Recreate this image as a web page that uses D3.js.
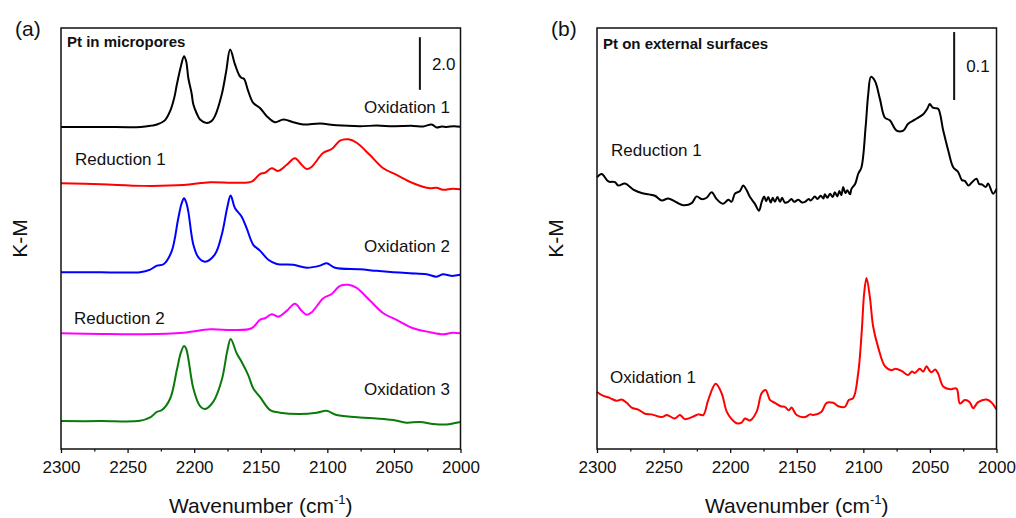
<!DOCTYPE html>
<html>
<head>
<meta charset="utf-8">
<script src="https://cdn.jsdelivr.net/npm/d3@7"></script>
<style>
body { margin: 0; background: #fff; }
text { font-family: Arial, "Liberation Sans", sans-serif; fill: #111; }
</style>
</head>
<body>
<div id="chart"></div>
<script>
// x ticks (wavenumber, cm-1)
var xMajor = [2300, 2250, 2200, 2150, 2100, 2050, 2000];
var xMinor = [2275, 2225, 2175, 2125, 2075, 2025];

// (a) Pt in micropores -- [wavenumber, K-M above own baseline]
var a_ox1 = [[2300,0],[2270,0],[2240,0],[2232,0.05],[2228,0.09],[2222,0.25],[2218,0.61],[2215,1.1],[2213,1.61],[2210,2.3],[2207.6,2.69],[2206,2.5],[2204.4,1.86],[2202,1.3],[2200.6,0.85],[2198,0.5],[2195.6,0.28],[2190.6,0.15],[2187,0.22],[2184.4,0.41],[2179.3,1.23],[2176,2.1],[2173,2.94],[2169.3,2.37],[2166,1.95],[2164.3,1.86],[2162.6,1.83],[2159.4,1.36],[2155.6,0.91],[2150.6,0.72],[2145.5,0.41],[2139.3,0.18],[2133,0.28],[2125.6,0.18],[2118,0.09],[2105.5,0.13],[2093,0.06],[2075.5,0.03],[2063,0.05],[2050.5,0.03],[2035.5,0.04],[2028,0.02],[2021.6,0.09],[2018,-0.02],[2014,0.02],[2010.4,0],[2005,0.03],[2000,0.01]];
var a_red1 = [[2300,0],[2270,-0.04],[2238,-0.1],[2208,-0.07],[2188,0.04],[2170.6,0.02],[2156.8,0.06],[2150.6,0.35],[2146.8,0.4],[2141.8,0.57],[2136.8,0.47],[2130.5,0.7],[2124.3,0.95],[2119.3,0.7],[2115.5,0.54],[2111.7,0.63],[2103,1.16],[2096.7,1.3],[2090.5,1.62],[2084.2,1.67],[2078,1.54],[2068,1.07],[2058,0.57],[2048,0.32],[2035.5,0],[2023,-0.19],[2018,-0.17],[2013,-0.25],[2006,-0.21],[2000,-0.23]];
var a_ox2 = [[2300,0],[2270,0],[2240.7,0],[2233,0.1],[2228,0.25],[2223,0.3],[2217,0.78],[2212,2.03],[2209.5,2.6],[2207.6,2.81],[2206,2.65],[2204.4,2.3],[2200.6,1.04],[2196.8,0.56],[2191.9,0.4],[2184.4,0.68],[2179.3,1.42],[2175,2.5],[2172.6,2.91],[2169.3,2.43],[2164.3,2.11],[2160.6,1.67],[2155.6,1.04],[2150.6,0.82],[2144.3,0.47],[2138,0.31],[2125.6,0.28],[2115.5,0.17],[2105.5,0.25],[2100.5,0.34],[2094.2,0.17],[2075.5,0.11],[2063,0.05],[2050.5,0],[2038,-0.04],[2025.4,-0.08],[2018,-0.17],[2013,-0.08],[2007,-0.14],[2000,-0.1]];
var a_red2 = [[2300,0],[2270,-0.03],[2238,-0.04],[2208,0.02],[2188,0.15],[2170.6,0.12],[2156.8,0.19],[2150.6,0.51],[2146.8,0.57],[2141.8,0.72],[2136.8,0.63],[2130.5,0.85],[2124.3,1.12],[2119.3,0.85],[2115.5,0.7],[2111.7,0.8],[2103,1.33],[2096.7,1.49],[2090.5,1.8],[2084.2,1.84],[2078,1.72],[2068,1.24],[2058,0.76],[2048,0.51],[2035.5,0.19],[2023,0.04],[2013,-0.04],[2006,0.02],[2000,0]];
var a_ox3 = [[2300,0],[2270,0],[2240.7,0.01],[2233,0.14],[2228,0.35],[2224.2,0.42],[2218,0.86],[2213,1.94],[2210,2.6],[2207.6,2.85],[2206,2.75],[2204.4,2.38],[2200.6,1.24],[2195.6,0.57],[2191.9,0.46],[2185.6,0.74],[2179.3,1.56],[2175,2.7],[2172.6,3.12],[2168,2.57],[2164.3,2.25],[2159.4,1.75],[2155.6,1.24],[2150.6,0.92],[2143,0.42],[2135.5,0.32],[2120.5,0.27],[2108,0.32],[2100.5,0.39],[2093,0.23],[2075.5,0.14],[2063,0.1],[2050.5,0.04],[2040.5,-0.06],[2030.5,-0.03],[2020.5,-0.11],[2010.4,-0.13],[2005,-0.08],[2000,-0.03]];
var a_offsets = [12.24, 10.10, 6.72, 4.40, 1.06];
var a_labels = ["Oxidation 1", "Reduction 1", "Oxidation 2", "Reduction 2", "Oxidation 3"];

// (b) Pt on external surfaces
var b_red1 = [[2300,0.034],[2296.5,0.039],[2291.5,0.028],[2286.5,0.027],[2284,0.022],[2279,0.025],[2272.7,0.016],[2266.5,0.011],[2261,0.009],[2256.5,0.007],[2251.4,0],[2246.4,0.003],[2240,-0.003],[2235.2,-0.007],[2228.9,-0.004],[2225.2,0.006],[2221.4,0.002],[2217.7,0.004],[2213.9,0.012],[2210.1,0.002],[2205.2,-0.005],[2201.4,0.001],[2198.9,-0.002],[2196.4,0.01],[2192.6,0.014],[2190.2,0.022],[2187.6,0.015],[2185.1,0.005],[2181.4,-0.005],[2178.4,-0.015],[2176.3,-0.002],[2174.5,0.006],[2173,-0.001],[2171.4,0.005],[2169.5,-0.003],[2168,0.004],[2166.4,-0.002],[2164.5,0.005],[2162.5,-0.002],[2161,0.004],[2159,-0.003],[2156.4,-0.002],[2154,0.002],[2152,-0.002],[2148.8,0.001],[2146,-0.003],[2143.8,-0.002],[2141,0.002],[2139.5,0],[2136.4,0.006],[2134.5,0.002],[2132,0.007],[2130,0.003],[2128.9,0.009],[2127,0.004],[2125,0.01],[2123,0.005],[2121.4,0.012],[2119.5,0.006],[2118,0.014],[2116.5,0.008],[2115.1,0.02],[2113.5,0.011],[2112,0.015],[2110,0.009],[2108.9,0.017],[2106,0.025],[2103.9,0.039],[2101.4,0.049],[2098.3,0.108],[2096.3,0.157],[2094.3,0.182],[2091.3,0.176],[2087.6,0.15],[2083.8,0.122],[2080.1,0.118],[2075,0.103],[2070,0.103],[2066.3,0.113],[2061.3,0.119],[2055,0.127],[2052,0.135],[2050.1,0.142],[2048,0.137],[2046.3,0.136],[2043.8,0.135],[2040,0.103],[2036.3,0.074],[2032.5,0.049],[2028.8,0.042],[2026,0.03],[2023.8,0.029],[2021,0.022],[2018.8,0.026],[2015,0.032],[2013,0.024],[2011.3,0.024],[2008,0.02],[2006.3,0.025],[2002.5,0.01],[2000,0.017]];
var b_ox1 = [[2300,0.034],[2296,0.029],[2290.2,0.025],[2285.2,0.021],[2281.5,0.023],[2277.7,0.018],[2274,0.011],[2269,0.008],[2264,0.002],[2259,0.001],[2251.4,-0.003],[2247.6,0],[2241.5,-0.005],[2237.7,0],[2234,-0.006],[2226.5,-0.001],[2224,0.001],[2220.2,0],[2216.5,0.022],[2210.9,0.046],[2206.4,0.032],[2202.6,0.005],[2198.9,-0.006],[2195.1,-0.012],[2191.4,-0.011],[2188.9,-0.005],[2185.1,-0.008],[2180.1,0.005],[2176.4,0.032],[2173.4,0.037],[2170,0.022],[2166.4,0.018],[2162,0.013],[2158.9,0.012],[2156,0.007],[2153.9,0.011],[2150.1,0],[2143.9,-0.003],[2140,0.001],[2137.6,0],[2131.4,0.005],[2127.6,0.018],[2122.6,0.018],[2118.8,0.013],[2113.9,0.012],[2110.9,0.022],[2107.6,0.025],[2103.9,0.061],[2101.3,0.12],[2099.4,0.179],[2097.6,0.202],[2095.1,0.174],[2092.6,0.13],[2088.9,0.1],[2083.8,0.072],[2078.8,0.066],[2076.3,0.068],[2071.3,0.065],[2066.3,0.059],[2063.5,0.064],[2061.3,0.062],[2057.6,0.068],[2055,0.064],[2052.5,0.072],[2050.5,0.066],[2048.8,0.063],[2046,0.067],[2043.8,0.061],[2040,0.042],[2035,0.038],[2030,0.039],[2027.5,0.017],[2023.8,0.022],[2020.1,0.019],[2017.6,0.01],[2013.8,0.019],[2007.6,0.023],[2003.9,0.019],[2000,0.008]];
var b_offsets = [0.366, 0.05];
var b_labels = ["Reduction 1", "Oxidation 1"];

var width = 1016, height = 518;
var svg = d3.select("#chart").append("svg").attr("width", width).attr("height", height);

function drawPanel(p) {
  var g = svg.append("g");
  var x = d3.scaleLinear().domain([2300, 2000]).range([p.left, p.right]);
  var y = d3.scaleLinear().domain(p.yDomain).range([p.bottom, p.top]);

  var line = d3.line()
    .x(function(d) { return x(d[0]); })
    .y(function(d) { return y(d[1]); })
    .curve(d3.curveCatmullRom.alpha(0.5));

  p.series.forEach(function(s, i) {
    var pts = s.map(function(d) { return [d[0], d[1] + p.offsets[i]]; });
    g.append("path")
      .attr("d", line(pts))
      .attr("fill", "none")
      .attr("stroke", p.colors[i])
      .attr("stroke-width", 2)
      .attr("stroke-linejoin", "round");
  });

  // x axis, ticks point outward
  var ax = g.append("g").attr("transform", "translate(0," + p.bottom + ")")
    .call(d3.axisBottom(x).tickValues(xMajor).tickSize(4).tickSizeOuter(0).tickFormat(d3.format("d")));
  ax.select(".domain").remove();
  ax.selectAll("line").attr("stroke", "#111").attr("stroke-width", 1.3);
  ax.selectAll("text").attr("font-size", 17).attr("dy", "0.71em").attr("y", 12)
    .style("font-family", "Arial, 'Liberation Sans', sans-serif");
  var mx = g.append("g").attr("transform", "translate(0," + p.bottom + ")")
    .call(d3.axisBottom(x).tickValues(xMinor).tickSize(2.5).tickFormat(""));
  mx.select(".domain").remove();
  mx.selectAll("line").attr("stroke", "#111").attr("stroke-width", 1.3);

  // frame
  g.append("rect")
    .attr("x", p.left).attr("y", p.top)
    .attr("width", p.right - p.left).attr("height", p.bottom - p.top)
    .attr("fill", "none").attr("stroke", "#111").attr("stroke-width", 1.5);

  // scale bar
  g.append("line")
    .attr("x1", x(p.bar.at)).attr("x2", x(p.bar.at))
    .attr("y1", y(p.bar.top)).attr("y2", y(p.bar.top - p.bar.size))
    .attr("stroke", "#111").attr("stroke-width", 2);
  g.append("text")
    .attr("x", x(p.bar.at) + 12).attr("y", y(p.bar.top - p.bar.size / 2) + 6)
    .attr("font-size", 17).text(p.bar.label);

  g.append("text").attr("x", p.left + 6).attr("y", p.top + p.titleDy)
    .attr("font-size", 15).attr("font-weight", "bold").text(p.title);

  g.append("text").attr("x", p.left - 46).attr("y", 36)
    .attr("font-size", 21).text(p.tag);

  g.append("text")
    .attr("transform", "translate(" + (p.left - 34) + "," + ((p.top + p.bottom) / 2) + ") rotate(-90)")
    .attr("text-anchor", "middle").attr("font-size", 21).text("K-M");

  var t = g.append("text")
    .attr("x", (p.left + p.right) / 2).attr("y", 513)
    .attr("text-anchor", "middle").attr("font-size", 21);
  t.append("tspan").text("Wavenumber (cm");
  t.append("tspan").attr("font-size", 13).attr("dy", -9).text("-1");
  t.append("tspan").attr("dy", 9).text(")");

  p.labels.forEach(function(l, i) {
    g.append("text").attr("x", l.x).attr("y", l.y)
      .attr("text-anchor", l.anchor).attr("font-size", 17).text(p.names[i]);
  });
}

drawPanel({
  left: 61, right: 460.5, top: 28, bottom: 449,
  yDomain: [0, 16],
  series: [a_ox1, a_red1, a_ox2, a_red2, a_ox3],
  offsets: a_offsets,
  colors: ["#000000", "#ff0000", "#0000ff", "#ff00ff", "#0a7a0a"],
  names: a_labels,
  labels: [
    { x: 450, y: 113, anchor: "end" },
    { x: 75, y: 165, anchor: "start" },
    { x: 450, y: 252, anchor: "end" },
    { x: 74, y: 324, anchor: "start" },
    { x: 450, y: 395, anchor: "end" }
  ],
  bar: { at: 2030.5, top: 15.65, size: 2.0, label: "2.0" },
  title: "Pt in micropores", titleDy: 19, tag: "(a)"
});

drawPanel({
  left: 597, right: 996.5, top: 28, bottom: 449,
  yDomain: [0, 0.62],
  series: [b_red1, b_ox1],
  offsets: b_offsets,
  colors: ["#000000", "#ff0000"],
  names: b_labels,
  labels: [
    { x: 611, y: 156, anchor: "start" },
    { x: 610, y: 383, anchor: "start" }
  ],
  bar: { at: 2031.8, top: 0.614, size: 0.1, label: "0.1" },
  title: "Pt on external surfaces", titleDy: 21, tag: "(b)"
});
</script>
</body>
</html>
